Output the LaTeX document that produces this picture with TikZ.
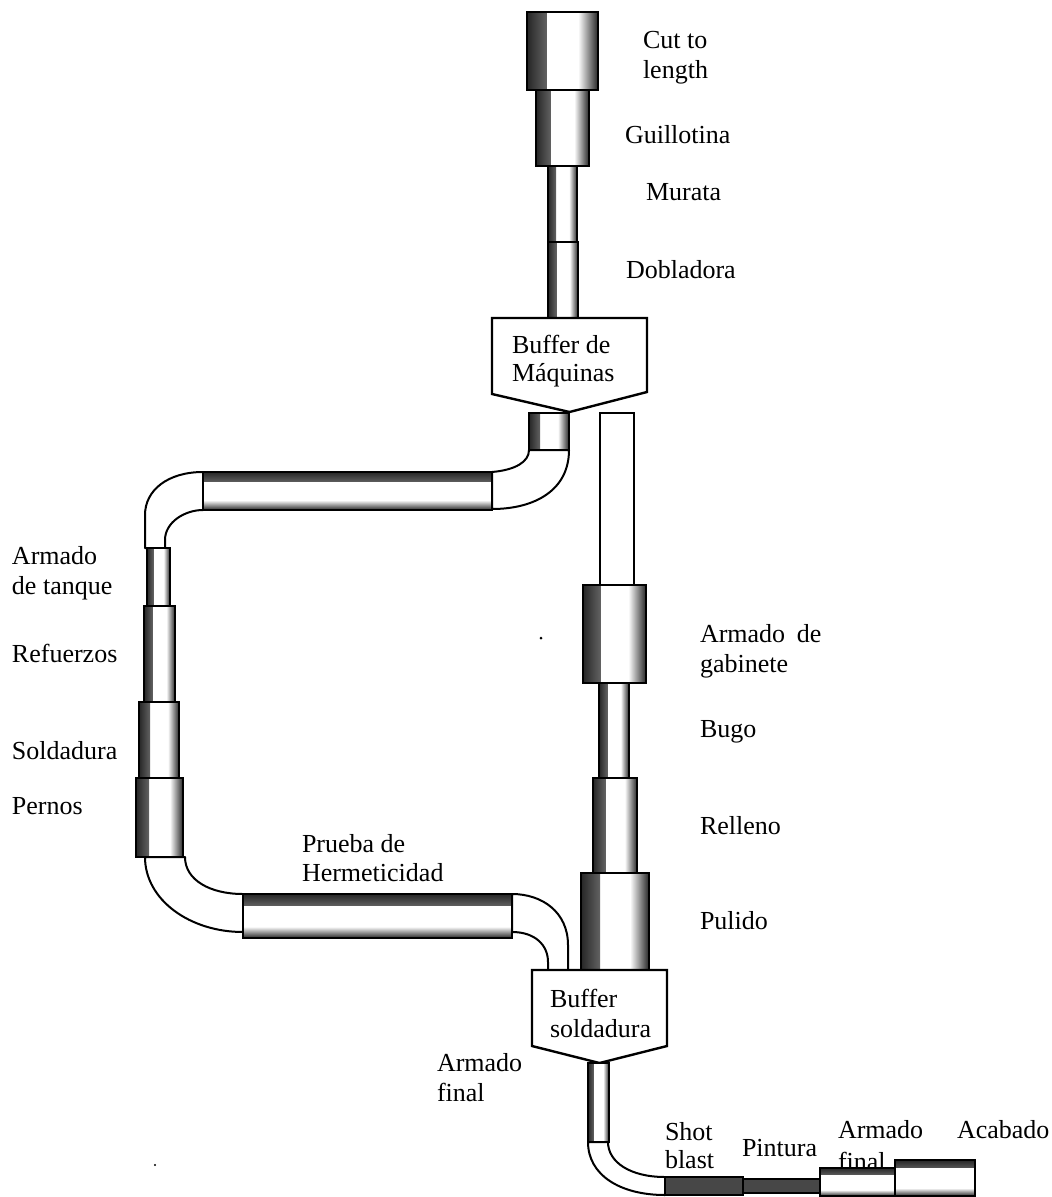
\documentclass[tikz,border=0pt]{standalone}
\usepackage{fontspec}
\setmainfont{Liberation Serif}
\usetikzlibrary{calc}
\begin{document}
\begin{tikzpicture}[x=1pt,y=-1pt]
\tikzset{
 box/.style={draw=black, line width=2.4pt, fill=white, inner sep=0pt, outer sep=0pt, rectangle},
 vpipe/.style={box, path picture={
   \shade[left color=black!85, middle color=black!55, right color=white]
     (path picture bounding box.south west) rectangle ($(path picture bounding box.north west)!#1!(path picture bounding box.north east)$);
   \shade[left color=white, middle color=black!55, right color=black!85]
     (path picture bounding box.south east) rectangle ($(path picture bounding box.north east)!#1!(path picture bounding box.north west)$);
 }},
 vpipe/.default=0.28,
 hpipe/.style={box, path picture={
   \shade[top color=black!85, middle color=black!55, bottom color=white]
     (path picture bounding box.north east) rectangle ($(path picture bounding box.north west)!#1!(path picture bounding box.south west)$);
   \shade[top color=white, middle color=black!55, bottom color=black!85]
     (path picture bounding box.south west) rectangle ($(path picture bounding box.south east)!#1!(path picture bounding box.north east)$);
 }},
 hpipe/.default=0.26,
 darkbox/.style={box, fill=black!72},
 plainbox/.style={box, line width=2pt},
 elbow/.style={draw=black, line width=2pt, fill=white, line join=round},
 buffer/.style={draw=black, line width=2.4pt, fill=white, line join=miter},
 lbl/.style={anchor=base west, inner sep=0pt, outer sep=0pt, font=\fontsize{26}{30}\selectfont},
}
\useasboundingbox (0,0) rectangle (1052,1197);
\fill[white] (0,0) rectangle (1052,1197);

% ---------- elbows ----------
\path[elbow] (203,472) .. controls (168,472) and (145,490) .. (145,515) -- (145,548)
  -- (165,548) -- (165,540) .. controls (165,522) and (185,510) .. (203,510) -- cycle;
\path[elbow] (492,472) .. controls (515,470) and (529,462) .. (529,450)
  -- (569,450) .. controls (569,490) and (535,509) .. (492,509) -- cycle;
\path[elbow] (145,857) .. controls (145,900) and (190,932) .. (243,932)
  -- (243,894) .. controls (210,894) and (185,880) .. (185,857) -- cycle;
\path[elbow] (512,894) .. controls (542,894) and (568,912) .. (568,945) -- (568,970)
  -- (548,970) -- (548,962) .. controls (548,945) and (535,932) .. (512,932) -- cycle;
\path[elbow] (588,1142) .. controls (588,1175) and (620,1195) .. (665,1195)
  -- (665,1177) .. controls (630,1177) and (608,1162) .. (608,1142) -- cycle;

% ---------- top column ----------
\node[vpipe, minimum width=71, minimum height=78] (cut) at (562.5,51) {};
\node[vpipe, minimum width=53, minimum height=76] (guil) at (562.5,128) {};
\node[vpipe, minimum width=29, minimum height=76] (mura) at (562.5,204) {};
\node[vpipe, minimum width=30, minimum height=76] (dobl) at (563,280) {};

% ---------- buffer de maquinas ----------
\draw[buffer] (492,318) -- (647,318) -- (647,392) -- (569.5,412) -- (492,394) -- cycle;
\coordinate (bufM) at (569.5,412);
\node[vpipe, minimum width=40, minimum height=37] (small) at (549,431.5) {};
\node[plainbox, minimum width=34, minimum height=172] (tall) at (617,499) {};
\node[hpipe, minimum width=289, minimum height=38] (htop) at (347.5,491) {};

% ---------- left column ----------
\node[vpipe, minimum width=23, minimum height=58] (tanq) at (158.5,577) {};
\node[vpipe, minimum width=31, minimum height=96] (refu) at (159.5,654) {};
\node[vpipe, minimum width=40, minimum height=76] (sold) at (159,740) {};
\node[vpipe, minimum width=47, minimum height=79] (pern) at (159.5,817.5) {};
\node[hpipe, minimum width=269, minimum height=44] (hbot) at (377.5,916) {};

% ---------- right column ----------
\node[vpipe, minimum width=63, minimum height=98] (gabi) at (614.5,634) {};
\node[vpipe, minimum width=30, minimum height=95] (bugo) at (614,730.5) {};
\node[vpipe, minimum width=44, minimum height=95] (rell) at (615,825.5) {};
\node[vpipe, minimum width=68, minimum height=97] (puli) at (615,921.5) {};

% ---------- buffer soldadura ----------
\draw[buffer] (532,970) -- (667,970) -- (667,1046) -- (599.5,1063) -- (532,1046) -- cycle;
\node[vpipe, minimum width=21, minimum height=79] (bpipe) at (598.5,1102.5) {};

% ---------- labels ----------
\node[lbl] (t1a) at (643,48) {Cut to};
\node[lbl] (t1b) at (643,78) {length};
\node[lbl] (t2) at (625,143) {Guillotina};
\node[lbl] (t3) at (646,200) {Murata};
\node[lbl] (t4) at (626,278) {Dobladora};
\node[lbl] (bm1) at (512,353) {Buffer de};
\node[lbl] (bm2) at (512,381) {Máquinas};
\node[lbl] (l1a) at (12,564) {Armado};
\node[lbl] (l1b) at (12,594) {de tanque};
\node[lbl] (l2) at (12,662) {Refuerzos};
\node[lbl] (l3) at (12,759) {Soldadura};
\node[lbl] (l4) at (12,814) {Pernos};
\node[lbl] (ph1) at (302,852) {Prueba de};
\node[lbl] (ph2) at (302,881) {Hermeticidad};
\node[lbl] (r1a) at (700,642) {Armado\hspace{0.45em}de};
\node[lbl] (r1b) at (700,672) {gabinete};
\node[lbl] (r2) at (700,737) {Bugo};
\node[lbl] (r3) at (700,834) {Relleno};
\node[lbl] (r4) at (700,929) {Pulido};
\node[lbl] (bs1) at (550,1007) {Buffer};
\node[lbl] (bs2) at (550,1037) {soldadura};
\node[lbl] (af1) at (437,1071) {Armado};
\node[lbl] (af2) at (437,1101) {final};
\node[lbl] (sb1) at (665,1140) {Shot};
\node[lbl] (sb2) at (665,1168) {blast};
\node[lbl] (pi) at (742,1156) {Pintura};
\node[lbl] (fa1) at (838,1138) {Armado};
\node[lbl] (fa2) at (838,1170) {final};
\node[lbl] (ac) at (957,1138) {Acabado};

% ---------- bottom row ----------
\node[darkbox, minimum width=78, minimum height=18] (shot) at (704,1186) {};
\node[darkbox, minimum width=77, minimum height=14] (pint) at (781.5,1186) {};
\node[hpipe=0.22, minimum width=75, minimum height=28] (armf) at (857.5,1182) {};
\node[hpipe=0.22, minimum width=80, minimum height=36] (acab) at (935,1178) {};

% stray dots of the original
\fill (541,638) circle (1.5);
\fill (155,1165) circle (1.2);
\end{tikzpicture}
\end{document}
